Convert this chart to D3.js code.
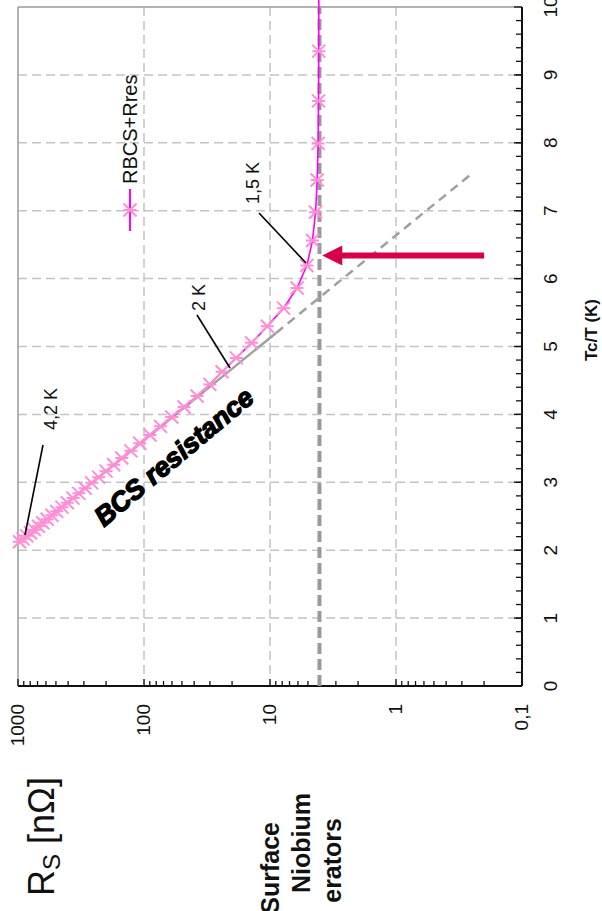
<!DOCTYPE html>
<html><head><meta charset="utf-8">
<script src="https://cdn.jsdelivr.net/npm/d3@7"></script>
<style>html,body{margin:0;padding:0;background:#fff;overflow:hidden}</style>
</head><body>
<svg id="c" width="602" height="911"></svg>
<script>
// Series RBCS+Rres: Tc/T values and surface resistance (nOhm)
const tcT = [2.125,2.167,2.211,2.256,2.303,2.352,2.404,2.457,2.514,2.572,2.634,2.699,2.767,2.837,2.913,2.992,3.076,3.164,3.258,3.357,3.463,3.575,3.696,3.824,3.961,4.110,4.270,4.442,4.628,4.832,5.054,5.298,5.565,5.862,6.192,6.561,6.978,7.451,7.991,8.617,9.350,10.39];
const rsTotal = [973,913,853,797,742,688,636,587,538,493,448,406,366,329,293,260,229,200,174,150,127,108,89.6,73.9,60.2,48.1,37.9,30,24,18.5,14,10.5,7.8,6.1,5.1,4.6,4.35,4.22,4.15,4.12,4.1,4.1];
// BCS resistance line (solid part then dashed extrapolation)
const bcsT = [2.106, 5.2, 7.555];
const bcsRs = [1000, 8.95, 0.247];
// residual resistance
const rres = 4.05;
// ticks
const rsTicks = [1000,100,10,1,0.1];
const rsTickLabels = ["1000","100","10","1","0,1"];
const tTicks = [0,1,2,3,4,5,6,7,8,9,10];
const tTickLabels = ["0","1","2","3","4","5","6","7","8","9","10"];
const seriesName = "RBCS+Rres";

const svg = d3.select("#c");
const L = 18, R = 522, T = 7, B = 686;
const x = d3.scaleLog().domain([0.1,1000]).range([R,L]);
const y = d3.scaleLinear().domain([0,10]).range([B,T]);
const font = "Liberation Sans, Arial, sans-serif";

// gridlines
const grid = svg.append("g").attr("stroke","#c4c4c4").attr("stroke-width",1.5).attr("stroke-dasharray","9,5");
[100,10,1].forEach(v=>grid.append("line").attr("x1",x(v)).attr("x2",x(v)).attr("y1",T).attr("y2",B));
d3.range(1,10).forEach(v=>grid.append("line").attr("x1",L).attr("x2",R).attr("y1",y(v)).attr("y2",y(v)));

// frame (left & top gray)
svg.append("line").attr("x1",L).attr("x2",L).attr("y1",T).attr("y2",B).attr("stroke","#9a9a9a").attr("stroke-width",1.5);
svg.append("line").attr("x1",L).attr("x2",R).attr("y1",T).attr("y2",T).attr("stroke","#9a9a9a").attr("stroke-width",1.5);

// bottom log axis (Rs)
const minor = [];
[0.1,1,10,100].forEach(d=>{for(let k=2;k<=9;k++) minor.push(d*k);});
const ax = svg.append("g").attr("stroke","#111").attr("stroke-width",1.3);
minor.forEach(v=>ax.append("line").attr("x1",x(v)).attr("x2",x(v)).attr("y1",B).attr("y2",B-5));
rsTicks.forEach(v=>ax.append("line").attr("x1",x(v)).attr("x2",x(v)).attr("y1",B).attr("y2",B-7));
ax.append("line").attr("x1",L).attr("x2",R).attr("y1",B).attr("y2",B).attr("stroke-width",2);
rsTicks.forEach((v,i)=>svg.append("text").attr("transform",`translate(${x(v)+6},${B+18}) rotate(-90)`)
  .attr("text-anchor","end").attr("font-family",font).attr("font-size",19).attr("fill","#111").text(rsTickLabels[i]));

// right linear axis (Tc/T)
const ay = svg.append("g").attr("stroke","#111").attr("stroke-width",1.3);
d3.range(0,50).forEach(k=>{const v=k*0.2; ay.append("line").attr("x1",R).attr("x2",R-6).attr("y1",y(v)).attr("y2",y(v));});
tTicks.forEach(v=>ay.append("line").attr("x1",R).attr("x2",R-8).attr("y1",y(v)).attr("y2",y(v)));
ay.append("line").attr("x1",R).attr("x2",R).attr("y1",T).attr("y2",B).attr("stroke-width",2);
tTicks.forEach((v,i)=>svg.append("text").attr("transform",`translate(${R+35},${y(v)}) rotate(-90)`)
  .attr("text-anchor","middle").attr("font-family",font).attr("font-size",19).attr("fill","#111").text(tTickLabels[i]));
svg.append("text").attr("transform",`translate(597,330) rotate(-90)`).attr("text-anchor","middle")
  .attr("font-family",font).attr("font-size",17).attr("font-weight","bold").attr("fill","#111").text("Tc/T (K)");

// Rres line
svg.append("line").attr("x1",x(rres)).attr("x2",x(rres)).attr("y1",y(0)).attr("y2",y(10))
  .attr("stroke","#9a9a9a").attr("stroke-width",4).attr("stroke-dasharray","11,5");

// BCS line
const bl = d3.line().x(d=>x(d[1])).y(d=>y(d[0]));
svg.append("path").attr("d",bl([[bcsT[0],bcsRs[0]],[bcsT[1],bcsRs[1]]])).attr("fill","none").attr("stroke","#a0a0a0").attr("stroke-width",2.5);
svg.append("path").attr("d",bl([[bcsT[1],bcsRs[1]],[bcsT[2],bcsRs[2]]])).attr("fill","none").attr("stroke","#a0a0a0").attr("stroke-width",2.5).attr("stroke-dasharray","9,6");

// series line
const pts = tcT.map((t,i)=>[t,rsTotal[i]]);
svg.append("path").attr("d",bl(pts)).attr("fill","none").attr("stroke","#ff00ff").attr("stroke-width",1.6);

function star(g,cx,cy){
  const s=6.5;
  g.append("path").attr("d",`M${cx-s},${cy-s}L${cx+s},${cy+s}M${cx-s},${cy+s}L${cx+s},${cy-s}M${cx-s},${cy}L${cx+s},${cy}`)
   .attr("stroke","#ff8fd5").attr("stroke-width",2).attr("fill","none");
}
const mg = svg.append("g");
pts.forEach(p=>star(mg,x(p[1]),y(p[0])));

// legend
svg.append("line").attr("x1",130).attr("x2",130).attr("y1",189).attr("y2",231).attr("stroke","#ff00ff").attr("stroke-width",2);
star(svg,130,210);
svg.append("text").attr("transform","translate(137,184) rotate(-90)").attr("font-family",font).attr("font-size",20).attr("fill","#111").text(seriesName);

// temperature annotations
const ann = [
  {txt:"4,2 K", tx:57, ty:430, x1:25, y1:535, x2:43, y2:445},
  {txt:"2 K", tx:205, ty:311, x1:230, y1:368, x2:197, y2:315},
  {txt:"1,5 K", tx:259, ty:204, x1:306, y1:263, x2:259, y2:213}
];
ann.forEach(a=>{
  svg.append("line").attr("x1",a.x1).attr("y1",a.y1).attr("x2",a.x2).attr("y2",a.y2).attr("stroke","#000").attr("stroke-width",1.6);
  svg.append("text").attr("transform",`translate(${a.tx},${a.ty}) rotate(-90)`).attr("font-family",font).attr("font-size",18).attr("fill","#111").text(a.txt);
});

// BCS resistance label
svg.append("text").attr("transform","translate(174,457) rotate(-40)").attr("text-anchor","middle").attr("dominant-baseline","central")
  .attr("font-family",font).attr("font-size",27).attr("font-weight","bold").attr("font-style","italic").attr("fill","#000")
  .attr("stroke","#000").attr("stroke-width",1.4).text("BCS resistance");

// red arrow
const ayp = y(6.34), xt = x(3.85), xs = x(0.2);
svg.append("rect").attr("x",xt+16).attr("y",ayp-3).attr("width",xs-xt-16).attr("height",6).attr("fill","#d9004a");
svg.append("path").attr("d",`M${xt},${ayp}L${xt+20},${ayp-10}L${xt+20},${ayp+10}Z`).attr("fill","#d9004a");

// left texts (cropped slide text)
const rl = svg.append("text").attr("transform","translate(54,896) rotate(-90)").attr("font-family",font).attr("font-size",36).attr("fill","#111");
rl.append("tspan").text("R");
rl.append("tspan").attr("font-size",24).attr("dy",6).text("S");
rl.append("tspan").attr("dy",-6).text(" [nΩ]");
[["Surface",279,822],["Niobium",310,793],["erators",341,818]].forEach(d=>
  svg.append("text").attr("transform",`translate(${d[1]},${d[2]}) rotate(-90)`).attr("text-anchor","end")
   .attr("font-family",font).attr("font-size",25).attr("font-weight","bold").attr("fill","#111").text(d[0]));
</script>
</body></html>
